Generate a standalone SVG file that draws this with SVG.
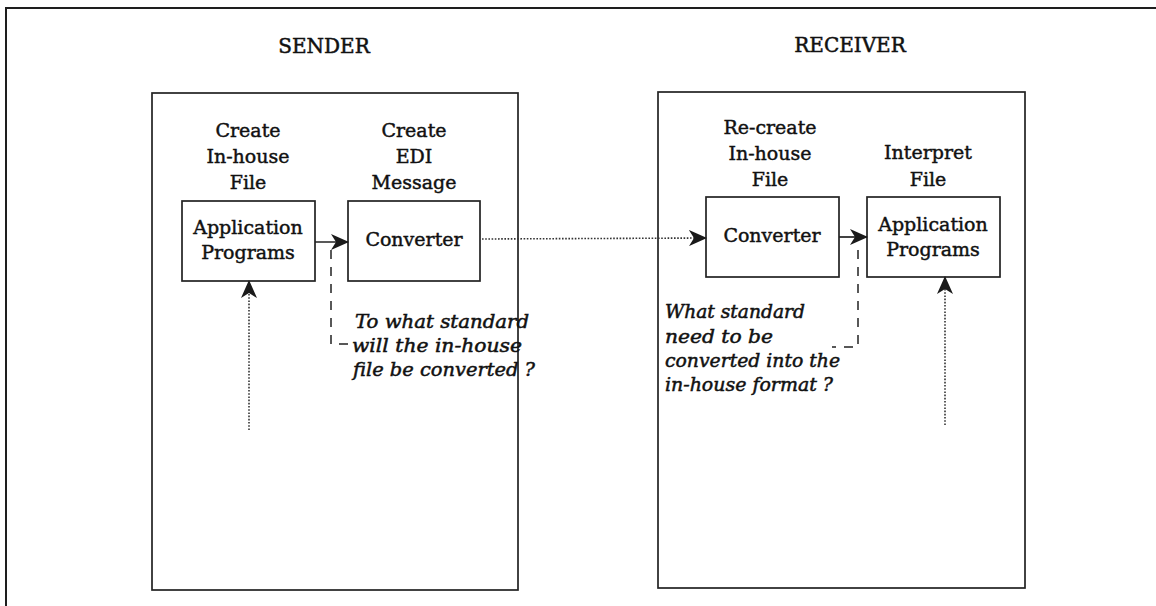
<svg xmlns="http://www.w3.org/2000/svg" width="1156" height="606" viewBox="0 0 1156 606">
  <defs>
    <style>
      .frame { fill: none; stroke: #1e1e1e; stroke-width: 2; }
      .box { fill: none; stroke: #222; stroke-width: 1.7; }
      .head { font-family: "DejaVu Serif", "Liberation Serif", serif; font-size: 20px; fill: #111; stroke: #111; stroke-width: 0.5; text-anchor: middle; }
      .lbl { font-family: "DejaVu Serif", "Liberation Serif", serif; font-size: 19px; fill: #111; stroke: #111; stroke-width: 0.45; text-anchor: middle; }
      .note { font-family: "DejaVu Serif", "Liberation Serif", serif; font-style: italic; font-size: 18px; fill: #111; stroke: #111; stroke-width: 0.5; }
      .solid { fill: none; stroke: #222; stroke-width: 1.7; }
      .dotted { fill: none; stroke: #333; stroke-width: 1.6; stroke-dasharray: 1.6 1.6; }
      .dashed { fill: none; stroke: #222; stroke-width: 1.5; stroke-dasharray: 9 8; }
    </style>
    <marker id="arrow" viewBox="0 0 18 16" refX="17" refY="8" markerWidth="18" markerHeight="16" markerUnits="userSpaceOnUse" orient="auto">
      <path d="M0,0 L18,8 L0,16 L5,8 Z" fill="#1a1a1a"/>
    </marker>
  </defs>

  <rect width="1156" height="606" fill="#ffffff"/>

  <!-- outer frame: only the top and left edges fall inside the page -->
  <path class="frame" d="M6,606 L6,8 L1156,8"/>

  <!-- party headings -->
  <text class="head" x="324" y="53">SENDER</text>
  <text class="head" x="850" y="52">RECEIVER</text>

  <!-- party panels -->
  <g id="sender">
    <rect class="box" x="152" y="93" width="366" height="497"/>
  </g>
  <g id="receiver">
    <rect class="box" x="658" y="92" width="367" height="496"/>
  </g>

  <!-- sender nodes -->
  <g id="sender-app">
    <text class="lbl" x="248" y="137">Create</text>
    <text class="lbl" x="248" y="163">In-house</text>
    <text class="lbl" x="248" y="189">File</text>
    <rect class="box" x="182" y="201" width="133" height="80"/>
    <text class="lbl" x="248" y="234">Application</text>
    <text class="lbl" x="248" y="259">Programs</text>
  </g>
  <g id="sender-converter">
    <text class="lbl" x="414" y="137">Create</text>
    <text class="lbl" x="414" y="163">EDI</text>
    <text class="lbl" x="414" y="189">Message</text>
    <rect class="box" x="348" y="201" width="132" height="80"/>
    <text class="lbl" x="414" y="246">Converter</text>
  </g>
  <g id="sender-note">
    <text class="note" x="355" y="328" textLength="174" lengthAdjust="spacingAndGlyphs">To what standard</text>
    <text class="note" x="352" y="352" textLength="170" lengthAdjust="spacingAndGlyphs">will the in-house</text>
    <text class="note" x="353" y="376" textLength="182" lengthAdjust="spacingAndGlyphs">file be converted ?</text>
  </g>

  <!-- receiver nodes -->
  <g id="receiver-converter">
    <text class="lbl" x="770" y="134">Re-create</text>
    <text class="lbl" x="770" y="160">In-house</text>
    <text class="lbl" x="770" y="186">File</text>
    <rect class="box" x="706" y="197" width="133" height="80"/>
    <text class="lbl" x="772" y="242">Converter</text>
  </g>
  <g id="receiver-app">
    <text class="lbl" x="928" y="159">Interpret</text>
    <text class="lbl" x="928" y="186">File</text>
    <rect class="box" x="867" y="197" width="133" height="80"/>
    <text class="lbl" x="933" y="231">Application</text>
    <text class="lbl" x="933" y="256">Programs</text>
  </g>
  <g id="receiver-note">
    <text class="note" x="665" y="318" textLength="140" lengthAdjust="spacingAndGlyphs">What standard</text>
    <text class="note" x="665" y="343" textLength="108" lengthAdjust="spacingAndGlyphs">need to be</text>
    <text class="note" x="665" y="367" textLength="175" lengthAdjust="spacingAndGlyphs">converted into the</text>
    <text class="note" x="665" y="391" textLength="168" lengthAdjust="spacingAndGlyphs">in-house format ?</text>
  </g>

  <!-- connectors -->
  <g id="connectors">
    <line class="solid" x1="315" y1="242" x2="348" y2="242" marker-end="url(#arrow)"/>
    <line class="solid" x1="839" y1="237" x2="867" y2="237" marker-end="url(#arrow)"/>
    <line class="dotted" x1="482" y1="239" x2="706" y2="238" marker-end="url(#arrow)"/>
    <line class="dotted" x1="249" y1="430" x2="249" y2="281" marker-end="url(#arrow)"/>
    <line class="dotted" x1="945" y1="425" x2="945" y2="277" marker-end="url(#arrow)"/>
    <polyline class="dashed" points="331,250 331,344 350,344"/>
    <polyline class="dashed" points="858,250 858,347 832,347"/>
  </g>
</svg>
